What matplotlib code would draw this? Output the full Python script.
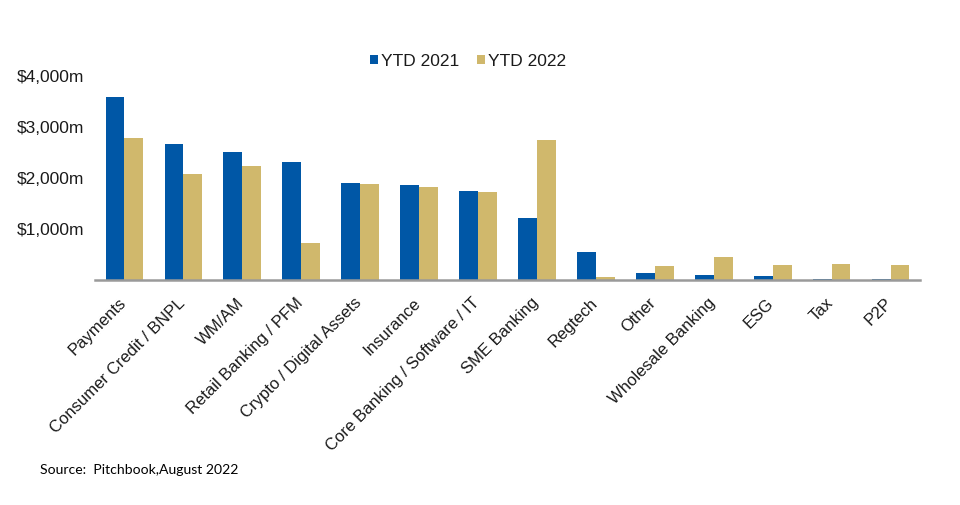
import matplotlib
matplotlib.use("Agg")
import matplotlib.pyplot as plt
import matplotlib.transforms as mtransforms
import numpy as np

categories = ["Payments", "Consumer Credit / BNPL", "WM/AM", "Retail Banking / PFM",
              "Crypto / Digital Assets", "Insurance", "Core Banking / Software / IT",
              "SME Banking", "Regtech", "Other", "Wholesale Banking", "ESG", "Tax", "P2P"]
ytd_2021 = [3575, 2660, 2485, 2295, 1895, 1850, 1740, 1210, 535, 118, 85, 65, 14, 14]
ytd_2022 = [2760, 2060, 2220, 720, 1870, 1805, 1712, 2720, 53, 261, 431, 275, 300, 275]
series_names = ["YTD 2021", "YTD 2022"]
ytick_vals = [1000, 2000, 3000, 4000]
ytick_labels = ["$1,000m", "$2,000m", "$3,000m", "$4,000m"]
source_text = "Source:  Pitchbook,August 2022"

BLUE = "#0057A6"
GOLD = "#D0B86C"

plt.rcParams['font.family'] = ['Liberation Sans', 'DejaVu Sans']

fig = plt.figure(figsize=(9.6, 5.06), dpi=100)
ax = fig.add_axes([95/960, 1 - 280.5/506, 825/960, (280.5 - 76)/506])

x = np.arange(len(categories))
w = 0.32
ax.bar(x - w/2, ytd_2021, width=w, color=BLUE, label=series_names[0], zorder=2)
ax.bar(x + w/2, ytd_2022, width=w, color=GOLD, label=series_names[1], zorder=2)

ax.set_xlim(-0.5, len(categories) - 0.5)
ax.set_ylim(0, 4000)
ax.set_yticks(ytick_vals)
ax.set_yticklabels(ytick_labels, fontsize=12.5, color="#1a1a1a")
ax.tick_params(axis='y', length=0, pad=8)

ax.set_xticks(x)
ax.set_xticklabels(categories, fontsize=12, rotation=45, ha='right', va='center_baseline',
                   rotation_mode='anchor', color="#1a1a1a")
ax.tick_params(axis='x', length=0, pad=0)
offset = mtransforms.ScaledTranslation(-0.02, -0.19, fig.dpi_scale_trans)
for lbl in ax.get_xticklabels():
    lbl.set_transform(lbl.get_transform() + offset)

for s in ['top', 'right', 'left']:
    ax.spines[s].set_visible(False)
ax.spines['bottom'].set_color('#9a9a9a')
ax.spines['bottom'].set_linewidth(1.8)
ax.spines['bottom'].set_zorder(3)

leg = fig.legend(loc='center', bbox_to_anchor=(468/960, 1 - 62/506), ncol=2, frameon=False,
                 fontsize=12.5, handlelength=0.45, handleheight=0.45, handletextpad=0.2,
                 columnspacing=1.0)
for t in leg.get_texts():
    t.set_color("#1a1a1a")

fig.text(40/960, 1 - 470/506, source_text, fontsize=10.1, family=['Lato', 'DejaVu Sans'],
         ha='left', va='center', color='black')

fig.savefig("out.png", dpi=100, facecolor='white')
